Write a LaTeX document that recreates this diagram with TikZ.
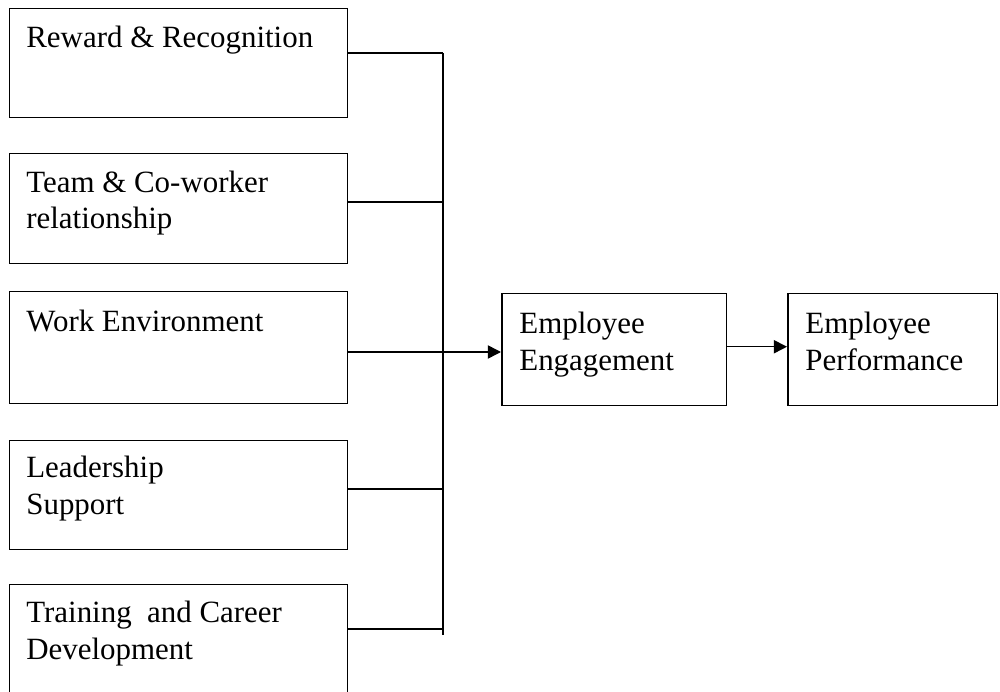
\documentclass[tikz,border=0pt]{standalone}
\usepackage{fontspec}
\setmainfont{Liberation Serif}
\usetikzlibrary{calc,arrows.meta}

\tikzset{
  factor/.style={draw, line width=0.85pt, anchor=north west, minimum width=6.76cm, inner sep=0pt},
  outcome/.style={draw, line width=0.85pt, anchor=north west, minimum height=2.24cm, inner sep=0pt},
  lbl/.style={anchor=base west, align=left, inner sep=0pt, font=\fontsize{17.6pt}{21pt}\selectfont},
  link/.style={line width=0.85pt},
  push/.style={line width=0.85pt, -{Triangle[length=7.5pt,width=7.5pt]}}
}

\begin{document}
\begin{tikzpicture}[x=0.02cm, y=-0.02cm]
\clip (0,0) rectangle (1000,692);

% the five drivers on the left
\node[factor, minimum height=2.18cm] (rr) at (9,8) {};
\node[factor, minimum height=2.2cm] (team) at (9,153) {};
\node[factor, minimum height=2.24cm] (env) at (9,291) {};
\node[factor, minimum height=2.18cm] (lead) at (9,440) {};
\node[factor, minimum height=2.6cm] (train) at (9,584) {};

% base sits on the last line, hence +37 for two lines
\node[lbl] (rrtxt) at ($(rr.north west)+(17,40)$) {Reward \& Recognition};
\node[lbl] (teamtxt) at ($(team.north west)+(17,76)$) {Team \& Co-worker\\relationship};
\node[lbl] (envtxt) at ($(env.north west)+(17,41)$) {Work Environment};
\node[lbl] (leadtxt) at ($(lead.north west)+(17,74)$) {Leadership\\Support};
\node[lbl] (traintxt) at ($(train.north west)+(17,75)$) {Training~ and Career\\Development};

% engagement and performance
\node[outcome, minimum width=4.5cm] (eng) at (501,293) {};
\node[outcome, minimum width=4.2cm] (perf) at (787,293) {};
\node[lbl] (engtxt) at ($(eng.north west)+(18,77)$) {Employee\\Engagement};
\node[lbl] (perftxt) at ($(perf.north west)+(18,77)$) {Employee\\Performance};

% collecting bus
\coordinate (b1) at (443,53);
\coordinate (b2) at (443,202);
\coordinate (b3) at (443,352);
\coordinate (b4) at (443,489);
\coordinate (b5) at (443,629);
\coordinate (busend) at (443,635);

\draw[link] (b1) -- (busend);
\draw[link] (rr.east |- b1) -- (b1);
\draw[link] (team.east |- b2) -- (b2);
\draw[link] (lead.east |- b4) -- (b4);
\draw[link] (train.east |- b5) -- (b5);
\draw[push] (env.east |- b3) -- (eng.west |- b3);
\draw[push] ($(eng.east)+(0,-3)$) -- ($(perf.west)+(0,-3)$);
\end{tikzpicture}
\end{document}
